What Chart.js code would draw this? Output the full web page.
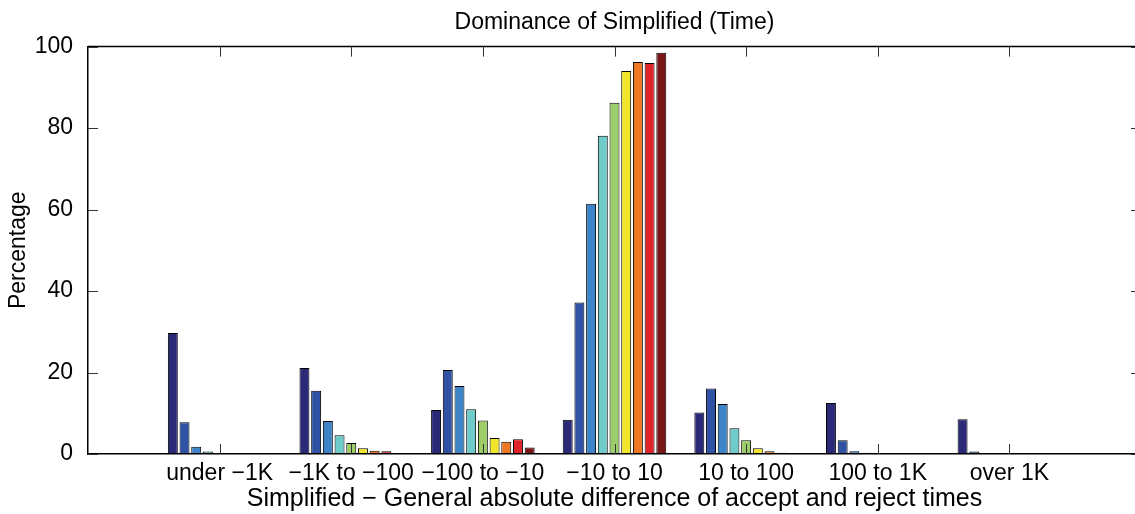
<!DOCTYPE html>
<html>
<head>
<meta charset="utf-8">
<script src="https://cdn.jsdelivr.net/npm/chart.js@4/dist/chart.umd.min.js"></script>
<style>
  html, body { margin: 0; padding: 0; background: #fff; overflow: hidden; }
  #wrap { width: 1150px; height: 514px; position: relative; }
</style>
</head>
<body>
<div id="wrap"><canvas id="chart"></canvas></div>
<script>
// x categories (bins of the time difference)
const categories = ['under \u22121K', '\u22121K to \u2212100', '\u2212100 to \u221210', '\u221210 to 10', '10 to 100', '100 to 1K', 'over 1K'];

// one array per series, one value per category (percent)
const series1 = [29.7, 21.1, 10.8, 8.4, 10.2, 12.5, 8.5];
const series2 = [7.8, 15.5, 20.6, 37.2, 16.1, 3.4, 0.6];
const series3 = [1.8, 8.1, 16.7, 61.4, 12.3, 0.7, 0];
const series4 = [0.6, 4.6, 11.0, 78.1, 6.3, 0.3, 0];
const series5 = [0.1, 2.7, 8.2, 86.2, 3.4, 0.1, 0];
const series6 = [0, 1.4, 3.9, 94.0, 1.4, 0, 0];
const series7 = [0, 0.8, 3.0, 96.2, 0.7, 0, 0];
const series8 = [0, 0.7, 3.6, 96.0, 0.3, 0, 0];
const series9 = [0, 0.1, 1.6, 98.5, 0.1, 0, 0];

const yTicks = [0, 20, 40, 60, 80, 100];

const allSeries = [series1, series2, series3, series4, series5, series6, series7, series8, series9];
const colors = ['#2a2a78', '#3052a4', '#3d84c8', '#6fcaca', '#9ccd68', '#f1e62b', '#f07822', '#e1232a', '#7b1516'];

const FONT = 'Liberation Sans, Arial, Helvetica, sans-serif';
const FS = 23;

// MATLAB-style box: top/right edges plus inward ticks
const boxTicks = {
  id: 'boxTicks',
  afterDraw(chart) {
    const { ctx, chartArea: a, scales: { x, y } } = chart;
    ctx.save();
    ctx.strokeStyle = '#000';
    ctx.lineWidth = 1.5;
    ctx.beginPath();
    ctx.moveTo(a.left, a.top);
    ctx.lineTo(a.right, a.top);
    ctx.lineTo(a.right, a.bottom);
    ctx.stroke();
    ctx.lineWidth = 1;
    ctx.strokeStyle = '#333';
    ctx.beginPath();
    yTicks.forEach((v) => {
      const py = Math.round(y.getPixelForValue(v)) + 0.5;
      ctx.moveTo(a.left, py);
      ctx.lineTo(a.left + 10, py);
      ctx.moveTo(a.right, py);
      ctx.lineTo(a.right - 10, py);
    });
    categories.forEach((c, i) => {
      const px = Math.round(x.getPixelForValue(i + 1)) + 0.5;
      ctx.moveTo(px, a.bottom);
      ctx.lineTo(px, a.bottom - 10);
      ctx.moveTo(px, a.top);
      ctx.lineTo(px, a.top + 10);
    });
    ctx.stroke();
    ctx.restore();
  }
};

const datasets = allSeries.map((s, k) => ({
  label: 'Series ' + (k + 1),
  data: s.map((v, i) => ({ x: i + 1, y: v })),
  backgroundColor: colors[k],
  borderColor: '#000',
  borderWidth: 1,
  borderSkipped: false,
  categoryPercentage: 0.8,
  barPercentage: 0.85
}));

new Chart(document.getElementById('chart'), {
  type: 'bar',
  data: { datasets: datasets },
  plugins: [boxTicks],
  options: {
    responsive: true,
    maintainAspectRatio: false,
    animation: false,
    layout: { padding: { left: 0, right: 9, top: 0, bottom: 0 } },
    plugins: {
      legend: { display: false },
      tooltip: { enabled: false },
      title: {
        display: true,
        text: 'Dominance of Simplified (Time)',
        color: '#000',
        fullSize: false,
        font: { family: FONT, size: FS, weight: 'normal' },
        padding: { top: 9, bottom: 10 }
      }
    },
    scales: {
      x: {
        type: 'linear',
        min: 0,
        max: 8,
        offset: false,
        grid: { display: false, offset: false },
        border: { display: true, color: '#000', width: 1.5 },
        ticks: {
          stepSize: 1,
          autoSkip: false,
          maxRotation: 0,
          padding: -2,
          color: '#000',
          font: { family: FONT, size: FS },
          callback: (v) => (v >= 1 && v <= categories.length ? categories[v - 1] : '')
        },
        title: {
          display: true,
          text: 'Simplified \u2212 General absolute difference of accept and reject times',
          color: '#000',
          font: { family: FONT, size: 25 },
          padding: { top: 0, bottom: 0 }
        },
        afterFit: (scale) => { scale.height = 60; }
      },
      y: {
        min: 0,
        max: 100,
        grid: { display: false },
        border: { display: true, color: '#000', width: 1.5 },
        ticks: {
          stepSize: 20,
          padding: 7,
          color: '#000',
          font: { family: FONT, size: FS }
        },
        title: {
          display: true,
          text: 'Percentage',
          color: '#000',
          font: { family: FONT, size: FS },
          padding: { top: 5, bottom: 0 }
        },
        afterFit: (scale) => { scale.width = 88; }
      }
    }
  }
});
</script>
</body>
</html>
